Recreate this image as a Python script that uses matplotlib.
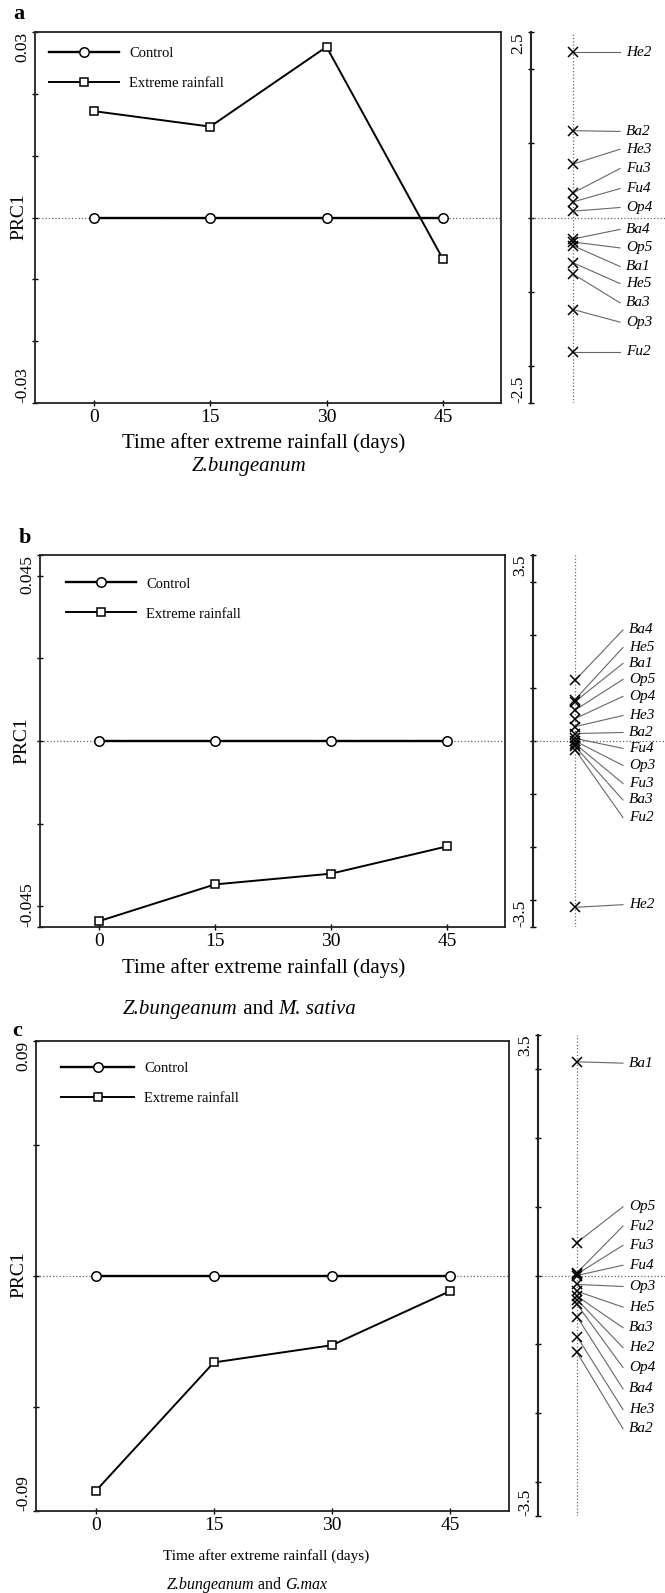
import matplotlib
matplotlib.use("Agg")
import matplotlib.pyplot as plt

plt.rcParams['font.family'] = ['Liberation Serif', 'DejaVu Serif']

# ---------------- data ----------------
days = [0, 15, 30, 45]

control_a = [0, 0, 0, 0]
extreme_a = [0.0172, 0.0147, 0.0276, -0.0067]
control_b = [0, 0, 0, 0]
extreme_b = [-0.0436, -0.0347, -0.0321, -0.0255]
control_c = [0, 0, 0, 0]
extreme_c = [-0.0823, -0.0331, -0.0265, -0.0058]

species_a = ['He2', 'Ba2', 'He3', 'Fu3', 'Fu4', 'Op4', 'Ba4', 'Op5', 'Ba1', 'He5', 'Ba3', 'Op3', 'Fu2']
scores_a = [2.23, 1.17, 0.72, 0.33, 0.21, 0.085, -0.29, -0.33, -0.38, -0.61, -0.76, -1.24, -1.81]
labpos_a = [2.23, 1.16, 0.92, 0.66, 0.39, 0.135, -0.16, -0.41, -0.66, -0.89, -1.15, -1.41, -1.81]

species_b = ['Ba4', 'He5', 'Ba1', 'Op5', 'Op4', 'He3', 'Ba2', 'Fu4', 'Op3', 'Fu3', 'Ba3', 'Fu2', 'He2']
scores_b = [1.14, 0.78, 0.74, 0.58, 0.42, 0.27, 0.14, 0.05, 0.0, -0.05, -0.10, -0.16, -3.13]
labpos_b = [2.09, 1.76, 1.46, 1.16, 0.84, 0.48, 0.16, -0.14, -0.46, -0.80, -1.11, -1.44, -3.08]

species_c = ['Ba1', 'Op5', 'Fu2', 'Fu3', 'Fu4', 'Op3', 'He5', 'Ba3', 'He2', 'Op4', 'Ba4', 'He3', 'Ba2']
scores_c = [3.11, 0.48, 0.04, 0.02, 0.0, -0.13, -0.23, -0.30, -0.35, -0.42, -0.60, -0.89, -1.12]
labpos_c = [3.09, 1.0, 0.72, 0.44, 0.15, -0.16, -0.46, -0.76, -1.05, -1.34, -1.65, -1.95, -2.23]

W, H = 665, 1593


def fx(px):
    return px / W


def fy(py):
    return 1 - py / H


def rect(x0, y0, x1, y1):
    # pixel box (top-left origin) -> figure fraction rect
    return [fx(x0), fy(y1), (x1 - x0) / W, (y1 - y0) / H]


###############################################################################
def main_panel(fig, box, control, extreme, lim, ticks, limlab, leg_anchor, hlen):
    ax = fig.add_axes(rect(*box))
    ax.axhline(0, color='0.4', ls=':', lw=0.9, zorder=1)
    ax.plot(days, control, '-o', color='black', lw=1.7, ms=6.8, mfc='white',
            mew=1.1, label='Control', zorder=3, clip_on=False)
    ax.plot(days, extreme, '-s', color='black', lw=1.4, ms=5.8, mfc='white',
            mew=1.1, label='Extreme rainfall', zorder=3, clip_on=False)
    ax.set_xlim(-7.6, 52.5)
    ax.set_ylim(-lim, lim)
    ax.set_xticks(days)
    ax.set_xticklabels([str(d) for d in days], fontsize=14)
    ax.set_yticks(ticks)
    labs = []
    for t in ticks:
        if abs(t - lim) < 1e-9:
            labs.append(limlab)
        elif abs(t + lim) < 1e-9:
            labs.append('-' + limlab)
        else:
            labs.append('')
    ax.set_yticklabels(labs, fontsize=12.5)
    for t, tl in zip(ticks, ax.get_yticklabels()):
        tl.set_rotation(90)
        tl.set_va('top' if t > 0 else 'bottom')
    ax.tick_params(direction='inout', length=5, width=1, pad=2)
    ax.tick_params(axis='y', pad=1)
    for s in ax.spines.values():
        s.set_linewidth(1.3)
        s.set_color('#222222')
    ax.legend(loc='upper left', bbox_to_anchor=leg_anchor, frameon=False,
              fontsize=10.5, handlelength=hlen, handletextpad=0.7,
              labelspacing=1.15, borderpad=0, borderaxespad=0)
    return ax


def ord_panel(fig, box, names, scores, labpos, lim, mx, lend):
    x0, y0, x1, y1 = box
    ax2 = fig.add_axes(rect(*box))
    ax2.patch.set_alpha(0)
    ax2.set_xlim(0, x1 - x0)
    ax2.set_ylim(-lim, lim)
    for s in ['top', 'right', 'bottom']:
        ax2.spines[s].set_visible(False)
    ax2.spines['left'].set_linewidth(1.5)
    ax2.spines['left'].set_color('#222222')
    ax2.set_xticks([])
    n = int(lim)
    ticks = [-lim] + list(range(-n, n + 1)) + [lim]
    ax2.set_yticks(ticks)
    labs = []
    for t in ticks:
        if t == lim:
            labs.append(str(lim))
        elif t == -lim:
            labs.append('-' + str(lim))
        else:
            labs.append('')
    ax2.set_yticklabels(labs, fontsize=12.5)
    for t, tl in zip(ticks, ax2.get_yticklabels()):
        tl.set_rotation(90)
        tl.set_va('top' if t > 0 else 'bottom')
    ax2.tick_params(direction='inout', length=5, width=1, pad=1)
    ax2.axhline(0, color='0.4', ls=':', lw=0.9)
    ax2.axvline(mx, color='0.4', ls=':', lw=0.9)
    for name, s, p in zip(names, scores, labpos):
        ax2.plot([mx, lend], [s, p], color='0.4', lw=0.8, zorder=2)
        ax2.text(lend + 6, p, name, style='italic', fontsize=11,
                 va='center', ha='left')
    ax2.plot([mx] * len(scores), scores, 'x', color='black', ms=6.5, mew=1.1,
             ls='none', zorder=3, clip_on=False)
    return ax2


def mixed_title(ax, x, y, parts, size):
    # parts: list of (text, italic?) written one after another
    prev = None
    for txt, it in parts:
        style = 'italic' if it else 'normal'
        if prev is None:
            prev = ax.figure.text(fx(x), fy(y), txt, fontsize=size, style=style,
                                  va='center', ha='left')
        else:
            prev = ax.annotate(txt, xy=(1, 0), xycoords=prev, va='bottom',
                               ha='left', fontsize=size, style=style,
                               annotation_clip=False)


##########################  main  #############################################
fig = plt.figure(figsize=(W / 100, H / 100), dpi=100)

# panel a
ax_a = main_panel(fig, (35, 32, 501, 403), control_a, extreme_a, 0.03,
                  [-0.03, -0.02, -0.01, 0, 0.01, 0.02, 0.03], '0.03', (0.03, 0.96), 4.8)
ord_panel(fig, (531, 32, 665, 403), species_a, scores_a, labpos_a, 2.5, 42, 89)
fig.text(fx(13), fy(14), 'a', fontsize=16, fontweight='bold', va='center', ha='left')
fig.text(fx(19), fy(217), 'PRC1', fontsize=14, rotation=90, va='center', ha='center')
fig.text(fx(264), fy(443), 'Time after extreme rainfall (days)', fontsize=15,
         va='center', ha='center')
mixed_title(ax_a, 192, 467, [('Z.bungeanum', True)], 15)

# panel b
ax_b = main_panel(fig, (40, 555, 505, 927), control_b, extreme_b, 0.045,
                  [-0.045, -0.04, -0.02, 0, 0.02, 0.04, 0.045], '0.045', (0.056, 0.94), 4.8)
ord_panel(fig, (533, 555, 665, 927), species_b, scores_b, labpos_b, 3.5, 42, 90)
fig.text(fx(19), fy(538), 'b', fontsize=16, fontweight='bold', va='center', ha='left')
fig.text(fx(22), fy(741), 'PRC1', fontsize=14, rotation=90, va='center', ha='center')
fig.text(fx(264), fy(968), 'Time after extreme rainfall (days)', fontsize=15,
         va='center', ha='center')
mixed_title(ax_b, 123, 1010, [('Z.bungeanum', True), (' and ', False),
                              ('M. sativa', True)], 15)

# panel c
ax_c = main_panel(fig, (36, 1041, 509, 1511), control_c, extreme_c, 0.09,
                  [-0.09, -0.05, 0, 0.05, 0.09], '0.09', (0.053, 0.955), 5.0)
ord_panel(fig, (538, 1035, 665, 1516), species_c, scores_c, labpos_c, 3.5, 39, 85)
fig.text(fx(12), fy(1031), 'c', fontsize=16, fontweight='bold', va='center', ha='left')
fig.text(fx(19), fy(1275), 'PRC1', fontsize=14, rotation=90, va='center', ha='center')
fig.text(fx(163), fy(1556), 'Time after extreme rainfall (days)', fontsize=11,
         va='center', ha='left')
mixed_title(ax_c, 167, 1585, [('Z.bungeanum', True), (' and ', False),
                              ('G.max', True)], 11.5)

fig.savefig('out.png', dpi=100)
